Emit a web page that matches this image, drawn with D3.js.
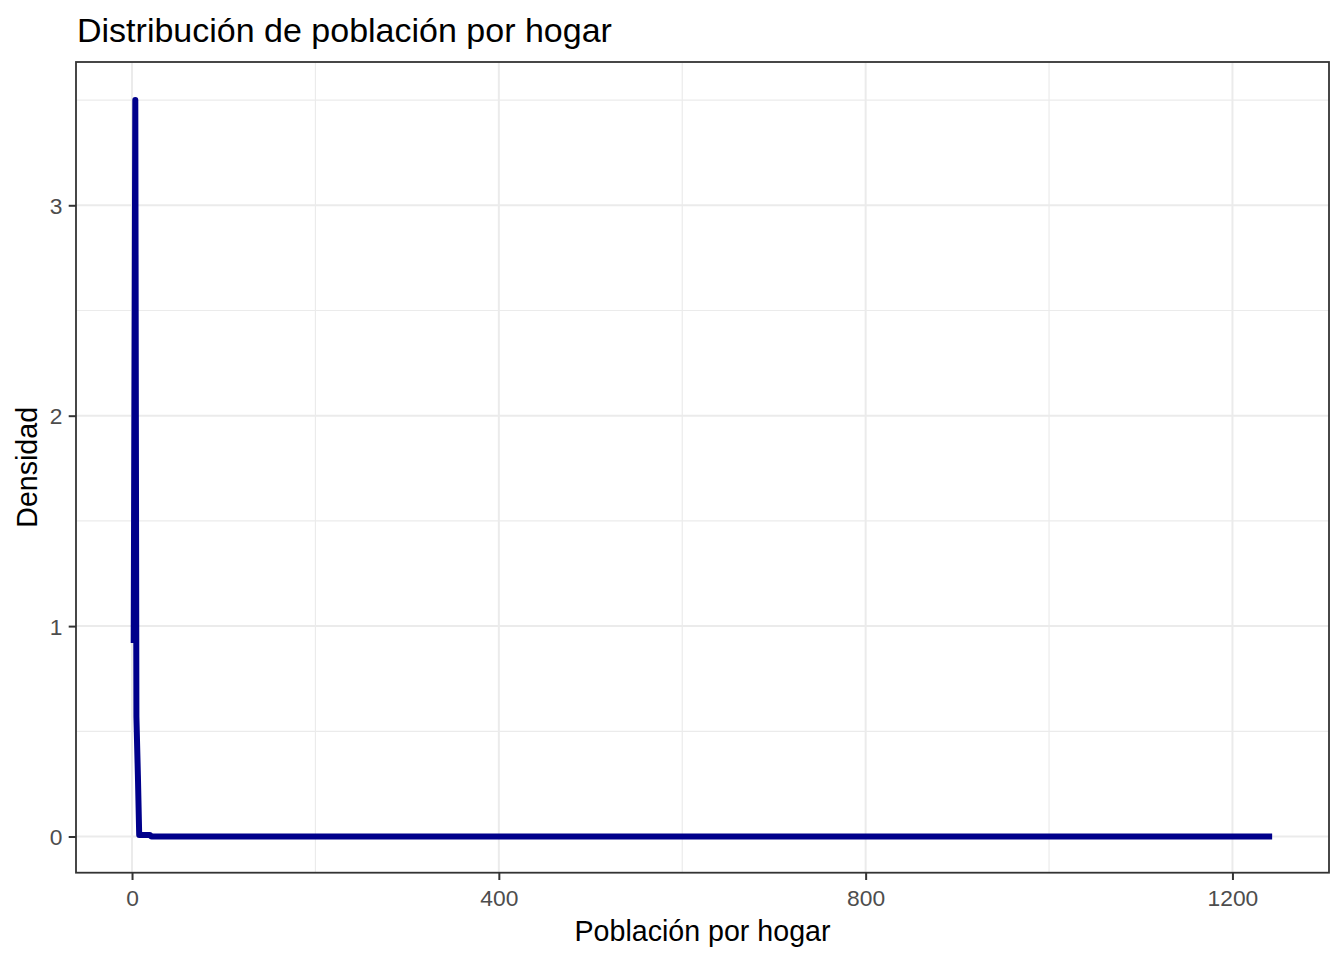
<!DOCTYPE html>
<html>
<head>
<meta charset="utf-8">
<script src="https://cdn.jsdelivr.net/npm/d3@7"></script>
<style>
  html, body { margin: 0; padding: 0; background: #ffffff; }
  svg { display: block; font-family: "Liberation Sans", Arial, sans-serif; }
</style>
</head>
<body>
<svg id="chart" width="1344" height="960"></svg>
<script>
// ---- data ----
const popPerHousehold = [1.82, 3.57, 4.77, 6.40, 7.82, 19.5, 21.2, 1243.3];
const density         = [0.92, 3.50, 0.57, 0.29, 0.007, 0.007, 0.0, 0.0];
const xLimits = [-61.1, 1305.3];
const yLimits = [-0.172, 3.681];
const xMajorTicks = [0, 400, 800, 1200];
const xMinorTicks = [200, 600, 1000];
const yMajorTicks = [0, 1, 2, 3];
const yMinorTicks = [0.5, 1.5, 2.5, 3.5];
const titleText = "Distribución de población por hogar";
const xTitle = "Población por hogar";
const yTitle = "Densidad";

// ---- layout ----
const panel = { left: 76, right: 1329, top: 62, bottom: 872.7 };
const svg = d3.select("#chart");

const x = d3.scaleLinear().domain(xLimits).range([panel.left, panel.right]);
const y = d3.scaleLinear().domain(yLimits).range([panel.bottom, panel.top]);

// panel background
svg.append("rect")
  .attr("x", panel.left).attr("y", panel.top)
  .attr("width", panel.right - panel.left).attr("height", panel.bottom - panel.top)
  .attr("fill", "#ffffff");

const grid = svg.append("g");
// minor grid
grid.selectAll("line.xminor").data(xMinorTicks).enter().append("line")
  .attr("x1", d => x(d)).attr("x2", d => x(d))
  .attr("y1", panel.top).attr("y2", panel.bottom)
  .attr("stroke", "#EBEBEB").attr("stroke-width", 1.2);
grid.selectAll("line.yminor").data(yMinorTicks).enter().append("line")
  .attr("y1", d => y(d)).attr("y2", d => y(d))
  .attr("x1", panel.left).attr("x2", panel.right)
  .attr("stroke", "#EBEBEB").attr("stroke-width", 1.2);
// major grid
grid.selectAll("line.xmajor").data(xMajorTicks).enter().append("line")
  .attr("x1", d => x(d)).attr("x2", d => x(d))
  .attr("y1", panel.top).attr("y2", panel.bottom)
  .attr("stroke", "#EBEBEB").attr("stroke-width", 2);
grid.selectAll("line.ymajor").data(yMajorTicks).enter().append("line")
  .attr("y1", d => y(d)).attr("y2", d => y(d))
  .attr("x1", panel.left).attr("x2", panel.right)
  .attr("stroke", "#EBEBEB").attr("stroke-width", 2);

// density line
const points = popPerHousehold.map((v, i) => [v, density[i]]);
const line = d3.line().x(d => x(d[0])).y(d => y(d[1]));
svg.append("path")
  .datum(points)
  .attr("d", line)
  .attr("fill", "none")
  .attr("stroke", "#00008B")
  .attr("stroke-width", 6)
  .attr("stroke-linejoin", "round")
  .attr("stroke-linecap", "butt");

// panel border
svg.append("rect")
  .attr("x", panel.left).attr("y", panel.top)
  .attr("width", panel.right - panel.left).attr("height", panel.bottom - panel.top)
  .attr("fill", "none").attr("stroke", "#333333").attr("stroke-width", 1.8);

// axes
const xAxis = d3.axisBottom(x).tickValues(xMajorTicks).tickSize(7.3).tickPadding(9.6)
  .tickFormat(d3.format("d"));
const gx = svg.append("g").attr("transform", `translate(0,${panel.bottom})`).call(xAxis);
gx.select(".domain").remove();
gx.selectAll(".tick line").attr("stroke", "#333333").attr("stroke-width", 2);
gx.selectAll(".tick text").attr("fill", "#4D4D4D").attr("font-size", 22.8)
  .attr("font-family", "Liberation Sans, Arial, sans-serif");

const yAxis = d3.axisLeft(y).tickValues(yMajorTicks).tickSize(7.3).tickPadding(6.2)
  .tickFormat(d3.format("d"));
const gy = svg.append("g").attr("transform", `translate(${panel.left},0)`).call(yAxis);
gy.select(".domain").remove();
gy.selectAll(".tick line").attr("stroke", "#333333").attr("stroke-width", 2);
gy.selectAll(".tick text").attr("fill", "#4D4D4D").attr("font-size", 22.8)
  .attr("dy", "0.36em")
  .attr("font-family", "Liberation Sans, Arial, sans-serif");

// titles
svg.append("text")
  .attr("x", 77).attr("y", 41.7)
  .attr("font-size", 34).attr("fill", "#000000")
  .text(titleText);

svg.append("text")
  .attr("x", (panel.left + panel.right) / 2).attr("y", 941)
  .attr("text-anchor", "middle")
  .attr("font-size", 28.6).attr("fill", "#000000")
  .text(xTitle);

svg.append("text")
  .attr("transform", `translate(36.5,${(panel.top + panel.bottom) / 2}) rotate(-90)`)
  .attr("text-anchor", "middle")
  .attr("font-size", 28.6).attr("fill", "#000000")
  .text(yTitle);
</script>
</body>
</html>
